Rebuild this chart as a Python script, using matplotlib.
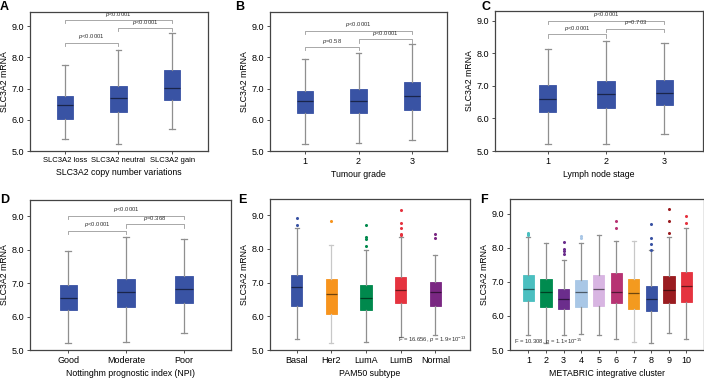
import matplotlib
matplotlib.use("Agg")
import matplotlib.pyplot as plt

plt.rcParams['font.family'] = ['Liberation Sans', 'DejaVu Sans']
plt.rcParams['mathtext.fontset'] = 'custom'
plt.rcParams['mathtext.it'] = 'Liberation Sans:italic'
plt.rcParams['mathtext.rm'] = 'Liberation Sans'

BLUE = '#3953A4'

# ---- Panel A: copy number
a_labels = ['SLC3A2 loss', 'SLC3A2 neutral', 'SLC3A2 gain']
a_lo = [5.37, 5.21, 5.69]
a_q1 = [6.01, 6.26, 6.62]
a_med = [6.47, 6.69, 7.02]
a_q3 = [6.77, 7.08, 7.58]
a_hi = [7.75, 8.22, 8.79]
a_pvals = [(1, 3, 9.19, '<0.0001'), (2, 3, 8.93, '<0.0001'), (1, 2, 8.47, '<0.0001')]

# ---- Panel B: tumour grade
b_labels = ['1', '2', '3']
b_lo = [5.22, 5.25, 5.35]
b_q1 = [6.22, 6.21, 6.31]
b_med = [6.60, 6.60, 6.76]
b_q3 = [6.93, 6.98, 7.21]
b_hi = [7.93, 8.13, 8.42]
b_pvals = [(1, 3, 8.85, '<0.0001'), (2, 3, 8.57, '<0.0001'), (1, 2, 8.32, '=0.58')]

# ---- Panel C: lymph node stage
c_labels = ['1', '2', '3']
c_lo = [5.20, 5.23, 5.51]
c_q1 = [6.21, 6.33, 6.41]
c_med = [6.61, 6.74, 6.77]
c_q3 = [7.02, 7.16, 7.18]
c_hi = [8.14, 8.39, 8.32]
c_pvals = [(1, 3, 9.0, '<0.0001'), (2, 3, 8.76, '=0.703'), (1, 2, 8.58, '<0.0001')]

# ---- Panel D: NPI
d_labels = ['Good', 'Moderate', 'Poor']
d_lo = [5.20, 5.25, 5.50]
d_q1 = [6.19, 6.29, 6.40]
d_med = [6.54, 6.72, 6.81]
d_q3 = [6.94, 7.12, 7.21]
d_hi = [7.95, 8.38, 8.33]
d_pvals = [(1, 3, 9.0, '<0.0001'), (2, 3, 8.75, '=0.368'), (1, 2, 8.55, '<0.0001')]

# ---- Panel E: PAM50
e_labels = ['Basal', 'Her2', 'LumA', 'LumB', 'Normal']
e_lo = [5.32, 5.20, 5.24, 5.40, 5.44]
e_q1 = [6.32, 6.08, 6.20, 6.38, 6.30]
e_med = [6.86, 6.65, 6.54, 6.77, 6.71]
e_q3 = [7.24, 7.10, 6.93, 7.18, 7.02]
e_hi = [8.62, 8.13, 7.97, 8.35, 7.82]
e_fliers = [[8.72, 8.93], [8.82], [8.08, 8.30, 8.35, 8.70],
            [8.40, 8.45, 8.62, 8.78, 9.16], [8.32, 8.43]]
e_colors = [BLUE, '#F7941D', '#00894D', '#E5333F', '#7A2782']

# ---- Panel F: integrative cluster
f_labels = [str(i) for i in range(1, 11)]
f_lo = [5.44, 5.22, 5.44, 5.47, 5.45, 5.31, 5.23, 5.20, 5.50, 5.33]
f_q1 = [6.45, 6.27, 6.20, 6.26, 6.29, 6.37, 6.20, 6.16, 6.37, 6.41]
f_med = [6.80, 6.72, 6.50, 6.70, 6.78, 6.70, 6.67, 6.50, 6.77, 6.88]
f_q3 = [7.20, 7.08, 6.80, 7.06, 7.22, 7.25, 7.10, 6.87, 7.18, 7.30]
f_hi = [8.32, 8.14, 7.65, 8.14, 8.37, 8.20, 8.20, 7.95, 8.33, 8.60]
f_fliers = [[8.38, 8.42, 8.45], [], [7.83, 7.90, 7.98, 8.18], [8.30, 8.35], [],
            [8.60, 8.78], [], [7.95, 8.12, 8.28, 8.70], [8.43, 8.80, 9.15], [8.72, 8.93]]
f_colors = ['#4BBFC0', '#008B4F', '#6B2D8C', '#A9C7E6', '#D8B5E2',
            '#B73373', '#F39A1F', BLUE, '#9A1C20', '#E5333F']

W, H = 704, 378
fig = plt.figure(figsize=(W / 100, H / 100), dpi=100)


def make_ax(x0, x1, ytop, ybot):
    return fig.add_axes([x0 / W, 1 - ybot / H, (x1 - x0) / W, (ybot - ytop) / H])


def darken(c, f=0.45):
    rgb = matplotlib.colors.to_rgb(c)
    return tuple(v * f for v in rgb)


def draw_boxes(ax, labels, lo, q1, med, q3, hi, colors, fliers=None, width=0.27):
    stats = []
    for i in range(len(labels)):
        stats.append(dict(whislo=lo[i], q1=q1[i], med=med[i], q3=q3[i], whishi=hi[i],
                          fliers=(fliers[i] if fliers else [])))
    for i, s in enumerate(stats):
        col = colors[i]
        wcol = '#c8c8c8' if col in ('#F7941D', '#F39A1F') else '#8f8f8f'
        ax.bxp([s], positions=[i + 1], widths=width, patch_artist=True,
               boxprops=dict(facecolor=col, edgecolor=col, linewidth=0.6),
               medianprops=dict(color=darken(col), linewidth=0.9),
               whiskerprops=dict(color=wcol, linewidth=0.9),
               capprops=dict(color=wcol, linewidth=0.9),
               capwidths=width * 0.35,
               flierprops=dict(marker='o', markersize=1.2, markerfacecolor=col,
                               markeredgecolor=col, linestyle='none'))
    ax.set_xticks(range(1, len(labels) + 1))
    ax.set_xticklabels(labels)


def style(ax, xlim, ylim, xlabel, letter, lx, ly, xtsize=6.5):
    ax.set_xlim(*xlim)
    ax.set_ylim(*ylim)
    ax.set_yticks([5.0, 6.0, 7.0, 8.0, 9.0])
    ax.set_yticklabels(['5.0', '6.0', '7.0', '8.0', '9.0'])
    ax.tick_params(labelsize=6.5, length=2.5, width=0.6, color='#333333', pad=2)
    ax.tick_params(axis='x', labelsize=xtsize)
    for sp in ax.spines.values():
        sp.set_color('#444444')
        sp.set_linewidth(0.9)
    ax.set_ylabel('SLC3A2 mRNA', fontsize=6.3, labelpad=1.5)
    ax.set_xlabel(xlabel, fontsize=6.3, labelpad=3)
    fig.text(lx / W, 1 - ly / H, letter, fontsize=9, fontweight='bold', va='top', ha='left')


def brackets(ax, pvals, leg=0.1):
    for i, j, y, txt in pvals:
        ax.plot([i, i, j, j], [y - leg, y, y, y - leg], color='#9a9a9a', lw=0.6)
        ax.text((i + j) / 2, y + 0.05, r'$\it{p}$' + txt, fontsize=4.2, ha='center',
                va='bottom', color='#333333')


ax = make_ax(30, 208, 12, 151)
draw_boxes(ax, a_labels, a_lo, a_q1, a_med, a_q3, a_hi, [BLUE] * 3, width=0.3)
brackets(ax, a_pvals)
style(ax, (0.35, 3.67), (5.0, 9.45), 'SLC3A2 copy number variations', 'A', 0, 1, xtsize=5.5)

ax = make_ax(270, 447, 12, 151)
draw_boxes(ax, b_labels, b_lo, b_q1, b_med, b_q3, b_hi, [BLUE] * 3, width=0.3)
brackets(ax, b_pvals)
style(ax, (0.35, 3.65), (5.0, 9.45), 'Tumour grade', 'B', 235, 1)

ax = make_ax(495, 703, 11, 151)
draw_boxes(ax, c_labels, c_lo, c_q1, c_med, c_q3, c_hi, [BLUE] * 3, width=0.3)
brackets(ax, c_pvals)
style(ax, (0.1, 3.66), (5.0, 9.30), 'Lymph node stage', 'C', 481, 1)

ax = make_ax(30, 231, 200, 350)
draw_boxes(ax, d_labels, d_lo, d_q1, d_med, d_q3, d_hi, [BLUE] * 3, width=0.3)
brackets(ax, d_pvals)
style(ax, (0.34, 3.81), (5.0, 9.48), 'Nottinghm prognostic index (NPI)', 'D', 0, 194)

ax = make_ax(270, 470, 199, 350)
draw_boxes(ax, e_labels, e_lo, e_q1, e_med, e_q3, e_hi, e_colors, e_fliers, width=0.33)
style(ax, (0.23, 6.0), (5.0, 9.48), 'PAM50 subtype', 'E', 238, 194)
ax.text(0.98, 0.03, r'F = 16.656, $\it{p}$ = 1.9×10$^{-13}$', transform=ax.transAxes,
        fontsize=4.2, ha='right', va='bottom', color='#333333')

ax = make_ax(510, 704, 199, 350)
draw_boxes(ax, f_labels, f_lo, f_q1, f_med, f_q3, f_hi, f_colors, f_fliers, width=0.65)
style(ax, (-0.05, 11.0), (5.0, 9.44), 'METABRIC integrative cluster', 'F', 480, 194)
ax.text(0.02, 0.02, r'F = 10.308, $\it{p}$ = 1.1×10$^{-15}$', transform=ax.transAxes,
        fontsize=4.2, ha='left', va='bottom', color='#333333')

fig.savefig('out.png', dpi=100)
